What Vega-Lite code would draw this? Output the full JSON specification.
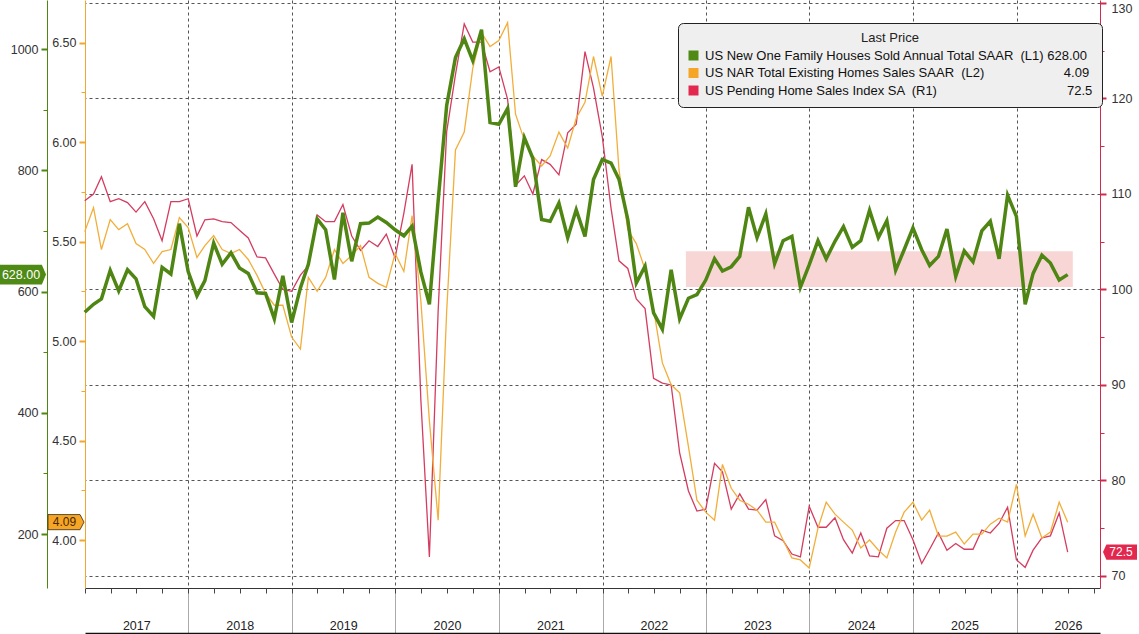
{
  "$schema": "https://vega.github.io/schema/vega-lite/v6.json",
  "width": 1015,
  "height": 588,
  "autosize": {"type": "none"},
  "padding": {"left": 85, "top": 0, "right": 39, "bottom": 46},
  "background": "white",
  "config": {
    "view": {"stroke": null},
    "axis": {"labelFont": "Liberation Sans", "labelFontSize": 12.5, "labelColor": "#333333", "domainWidth": 1}
  },
  "datasets": {
    "m": [
      {"d": "2016-12-31", "n": 566, "e": 5.55, "p": 109.3},
      {"d": "2017-01-31", "n": 579, "e": 5.67, "p": 110.0},
      {"d": "2017-02-28", "n": 588, "e": 5.46, "p": 111.8},
      {"d": "2017-03-31", "n": 635, "e": 5.61, "p": 109.2},
      {"d": "2017-04-30", "n": 601, "e": 5.56, "p": 109.5},
      {"d": "2017-05-31", "n": 636, "e": 5.59, "p": 109.1},
      {"d": "2017-06-30", "n": 621, "e": 5.49, "p": 108.1},
      {"d": "2017-07-31", "n": 575, "e": 5.46, "p": 109.2},
      {"d": "2017-08-31", "n": 559, "e": 5.39, "p": 107.4},
      {"d": "2017-09-30", "n": 640, "e": 5.45, "p": 105.1},
      {"d": "2017-10-31", "n": 629, "e": 5.46, "p": 109.2},
      {"d": "2017-11-30", "n": 712, "e": 5.62, "p": 109.2},
      {"d": "2017-12-31", "n": 633, "e": 5.57, "p": 109.5},
      {"d": "2018-01-31", "n": 593, "e": 5.42, "p": 105.6},
      {"d": "2018-02-28", "n": 618, "e": 5.48, "p": 107.3},
      {"d": "2018-03-31", "n": 680, "e": 5.53, "p": 107.4},
      {"d": "2018-04-30", "n": 645, "e": 5.46, "p": 107.1},
      {"d": "2018-05-31", "n": 664, "e": 5.44, "p": 107.0},
      {"d": "2018-06-30", "n": 639, "e": 5.46, "p": 106.2},
      {"d": "2018-07-31", "n": 630, "e": 5.41, "p": 105.4},
      {"d": "2018-08-31", "n": 598, "e": 5.33, "p": 103.4},
      {"d": "2018-09-30", "n": 597, "e": 5.24, "p": 103.3},
      {"d": "2018-10-31", "n": 555, "e": 5.18, "p": 101.6},
      {"d": "2018-11-30", "n": 626, "e": 5.18, "p": 100.0},
      {"d": "2018-12-31", "n": 549, "e": 5.02, "p": 99.8},
      {"d": "2019-01-31", "n": 606, "e": 4.96, "p": 101.5},
      {"d": "2019-02-28", "n": 645, "e": 5.32, "p": 102.5},
      {"d": "2019-03-31", "n": 720, "e": 5.25, "p": 107.8},
      {"d": "2019-04-30", "n": 702, "e": 5.32, "p": 107.1},
      {"d": "2019-05-31", "n": 620, "e": 5.46, "p": 107.1},
      {"d": "2019-06-30", "n": 730, "e": 5.39, "p": 108.9},
      {"d": "2019-07-31", "n": 650, "e": 5.43, "p": 105.6},
      {"d": "2019-08-31", "n": 712, "e": 5.48, "p": 104.1},
      {"d": "2019-09-30", "n": 713, "e": 5.32, "p": 105.1},
      {"d": "2019-10-31", "n": 723, "e": 5.29, "p": 104.5},
      {"d": "2019-11-30", "n": 714, "e": 5.27, "p": 105.8},
      {"d": "2019-12-31", "n": 702, "e": 5.44, "p": 103.3},
      {"d": "2020-01-31", "n": 692, "e": 5.35, "p": 108.0},
      {"d": "2020-02-29", "n": 708, "e": 5.63, "p": 113.1},
      {"d": "2020-03-31", "n": 632, "e": 5.20, "p": 88.4},
      {"d": "2020-04-30", "n": 579, "e": 4.60, "p": 72.0},
      {"d": "2020-05-31", "n": 750, "e": 4.10, "p": 97.8},
      {"d": "2020-06-30", "n": 907, "e": 5.15, "p": 116.5},
      {"d": "2020-07-31", "n": 986, "e": 5.96, "p": 122.5},
      {"d": "2020-08-31", "n": 1017, "e": 6.05, "p": 127.8},
      {"d": "2020-09-30", "n": 981, "e": 6.37, "p": 125.9},
      {"d": "2020-10-31", "n": 1032, "e": 6.55, "p": 125.9},
      {"d": "2020-11-30", "n": 879, "e": 6.48, "p": 122.8},
      {"d": "2020-12-31", "n": 876, "e": 6.51, "p": 123.3},
      {"d": "2021-01-31", "n": 902, "e": 6.60, "p": 119.9},
      {"d": "2021-02-28", "n": 773, "e": 6.14, "p": 110.9},
      {"d": "2021-03-31", "n": 854, "e": 6.01, "p": 111.9},
      {"d": "2021-04-30", "n": 820, "e": 5.93, "p": 110.0},
      {"d": "2021-05-31", "n": 719, "e": 5.88, "p": 113.6},
      {"d": "2021-06-30", "n": 716, "e": 5.93, "p": 113.1},
      {"d": "2021-07-31", "n": 746, "e": 6.05, "p": 112.0},
      {"d": "2021-08-31", "n": 689, "e": 5.97, "p": 116.4},
      {"d": "2021-09-30", "n": 735, "e": 6.12, "p": 117.3},
      {"d": "2021-10-31", "n": 691, "e": 6.20, "p": 124.9},
      {"d": "2021-11-30", "n": 785, "e": 6.43, "p": 121.1},
      {"d": "2021-12-31", "n": 818, "e": 6.23, "p": 116.0},
      {"d": "2022-01-31", "n": 812, "e": 6.43, "p": 108.5},
      {"d": "2022-02-28", "n": 785, "e": 5.86, "p": 103.0},
      {"d": "2022-03-31", "n": 719, "e": 5.56, "p": 102.2},
      {"d": "2022-04-30", "n": 614, "e": 5.49, "p": 99.0},
      {"d": "2022-05-31", "n": 642, "e": 5.36, "p": 98.0},
      {"d": "2022-06-30", "n": 565, "e": 5.16, "p": 90.7},
      {"d": "2022-07-31", "n": 538, "e": 4.89, "p": 90.2},
      {"d": "2022-08-31", "n": 636, "e": 4.78, "p": 90.0},
      {"d": "2022-09-30", "n": 555, "e": 4.74, "p": 82.9},
      {"d": "2022-10-31", "n": 589, "e": 4.47, "p": 78.9},
      {"d": "2022-11-30", "n": 595, "e": 4.20, "p": 76.8},
      {"d": "2022-12-31", "n": 619, "e": 4.14, "p": 77.0},
      {"d": "2023-01-31", "n": 654, "e": 4.10, "p": 81.8},
      {"d": "2023-02-28", "n": 634, "e": 4.38, "p": 80.9},
      {"d": "2023-03-31", "n": 641, "e": 4.26, "p": 77.0},
      {"d": "2023-04-30", "n": 658, "e": 4.20, "p": 78.6},
      {"d": "2023-05-31", "n": 739, "e": 4.18, "p": 77.0},
      {"d": "2023-06-30", "n": 689, "e": 4.15, "p": 76.9},
      {"d": "2023-07-31", "n": 728, "e": 4.09, "p": 78.0},
      {"d": "2023-08-31", "n": 646, "e": 4.09, "p": 74.2},
      {"d": "2023-09-30", "n": 684, "e": 4.00, "p": 73.7},
      {"d": "2023-10-31", "n": 691, "e": 3.91, "p": 72.3},
      {"d": "2023-11-30", "n": 607, "e": 3.90, "p": 72.0},
      {"d": "2023-12-31", "n": 644, "e": 3.86, "p": 77.3},
      {"d": "2024-01-31", "n": 684, "e": 4.06, "p": 75.1},
      {"d": "2024-02-29", "n": 654, "e": 4.19, "p": 75.1},
      {"d": "2024-03-31", "n": 683, "e": 4.13, "p": 76.1},
      {"d": "2024-04-30", "n": 707, "e": 4.09, "p": 73.8},
      {"d": "2024-05-31", "n": 673, "e": 4.05, "p": 72.4},
      {"d": "2024-06-30", "n": 684, "e": 3.96, "p": 74.5},
      {"d": "2024-07-31", "n": 734, "e": 4.00, "p": 72.1},
      {"d": "2024-08-31", "n": 689, "e": 3.95, "p": 72.0},
      {"d": "2024-09-30", "n": 717, "e": 3.91, "p": 75.0},
      {"d": "2024-10-31", "n": 635, "e": 4.04, "p": 75.8},
      {"d": "2024-11-30", "n": 669, "e": 4.14, "p": 75.8},
      {"d": "2024-12-31", "n": 705, "e": 4.19, "p": 73.8},
      {"d": "2025-01-31", "n": 669, "e": 4.10, "p": 71.3},
      {"d": "2025-02-28", "n": 643, "e": 4.15, "p": 72.8},
      {"d": "2025-03-31", "n": 658, "e": 4.02, "p": 74.5},
      {"d": "2025-04-30", "n": 703, "e": 4.02, "p": 72.7},
      {"d": "2025-05-31", "n": 625, "e": 4.04, "p": 73.4},
      {"d": "2025-06-30", "n": 667, "e": 3.98, "p": 72.8},
      {"d": "2025-07-31", "n": 649, "e": 4.03, "p": 72.8},
      {"d": "2025-08-31", "n": 700, "e": 4.03, "p": 74.8},
      {"d": "2025-09-30", "n": 716, "e": 4.08, "p": 74.5},
      {"d": "2025-10-31", "n": 654, "e": 4.11, "p": 75.5},
      {"d": "2025-11-30", "n": 759, "e": 4.09, "p": 77.2},
      {"d": "2025-12-31", "n": 724, "e": 4.28, "p": 71.7},
      {"d": "2026-01-31", "n": 579, "e": 4.02, "p": 70.9},
      {"d": "2026-02-28", "n": 630, "e": 4.13, "p": 72.7},
      {"d": "2026-03-31", "n": 660, "e": 4.01, "p": 74.0},
      {"d": "2026-04-30", "n": 647, "e": 4.04, "p": 74.2},
      {"d": "2026-05-31", "n": 619, "e": 4.19, "p": 76.6},
      {"d": "2026-06-30", "n": 628, "e": 4.09, "p": 72.5}
    ],
    "band": [
      {"start": "2022-10-22", "end": "2026-07-18", "lo": 100.25, "hi": 104.0}
    ]
  },
  "data": {"name": "m", "format": {"parse": {"d": "utc:'%Y-%m-%d'"}}},
  "layer": [
    {
      "layer": [
        {
          "data": {"name": "band", "format": {"parse": {"start": "utc:'%Y-%m-%d'", "end": "utc:'%Y-%m-%d'"}}},
          "mark": {"type": "rect", "color": "#f9d6d6"},
          "encoding": {
            "x": {"field": "start", "type": "temporal", "title": null},
            "x2": {"field": "end"},
            "y": {"field": "lo", "type": "quantitative", "axis": null, "title": null},
            "y2": {"field": "hi"}
          }
        },
        {
          "mark": {"type": "line", "color": "#d43c60", "strokeWidth": 1.3},
          "encoding": {
            "x": {
              "field": "d", "type": "temporal", "title": null,
              "scale": {"type": "utc", "domain": [{"year": 2017, "month": 1, "date": 1, "utc": true}, {"year": 2026, "month": 10, "date": 22, "utc": true}]},
              "axis": {
                "orient": "bottom",
                "values": [
                  {"year": 2018, "month": 1, "date": 1, "utc": true},
                  {"year": 2019, "month": 1, "date": 1, "utc": true},
                  {"year": 2020, "month": 1, "date": 1, "utc": true},
                  {"year": 2021, "month": 1, "date": 1, "utc": true},
                  {"year": 2022, "month": 1, "date": 1, "utc": true},
                  {"year": 2023, "month": 1, "date": 1, "utc": true},
                  {"year": 2024, "month": 1, "date": 1, "utc": true},
                  {"year": 2025, "month": 1, "date": 1, "utc": true},
                  {"year": 2026, "month": 1, "date": 1, "utc": true}
                ],
                "labels": false,
                "grid": true, "gridDash": [3, 3], "gridColor": "#555555", "gridWidth": 1,
                "tickSize": 45, "tickColor": "#aaaaaa", "tickWidth": 1,
                "domain": true, "domainColor": "#333333"
              }
            },
            "y": {
              "field": "p", "type": "quantitative", "title": null,
              "scale": {"domain": [68.74, 130.31], "nice": false, "zero": false},
              "axis": {
                "orient": "right",
                "values": [70, 80, 90, 100, 110, 120, 130],
                "grid": true, "gridDash": [3, 3], "gridColor": "#555555", "gridWidth": 1,
                "domainColor": "#d02a4e", "tickColor": "#d02a4e", "tickSize": 6, "tickWidth": 2,
                "labelPadding": 5, "labelFlush": 5
              }
            }
          }
        },
        {
          "transform": [{"filter": "utcyear(datum.d) === 2026 && utcmonth(datum.d) === 5"}],
          "mark": {"type": "point", "shape": "M-1,0L-0.8,-0.45L1,-0.45L1,0.45L-0.8,0.45Z", "size": 1156, "filled": true, "opacity": 1, "strokeWidth": 0, "xOffset": 20},
          "encoding": {
            "x": {"datum": {"year": 2026, "month": 10, "date": 22, "utc": true}, "type": "temporal", "title": null},
            "y": {
              "field": "p", "type": "quantitative", "title": null,
              "axis": {"orient": "right", "values": [75, 85, 95, 105, 115, 125], "labels": false, "domain": false, "grid": false, "tickColor": "#d02a4e", "tickSize": 4, "tickWidth": 1}
            },
            "fill": {
              "datum": "US Pending Home Sales Index SA \u00a0(R1)", "type": "nominal",
              "scale": {
                "domain": ["US New One Family Houses Sold Annual Total SAAR \u00a0(L1)", "US NAR Total Existing Homes Sales SAAR \u00a0(L2)", "US Pending Home Sales Index SA \u00a0(R1)"],
                "range": ["#4e8a14", "#f5a627", "#e2284e"]
              },
              "legend": {
                "orient": "none", "legendX": 593, "legendY": 23,
                "title": "Last Price", "titleFont": "Liberation Sans", "titleFontSize": 13, "titleFontWeight": "normal", "titleColor": "#222222",
                "titleAnchor": "middle", "titleAlign": "center", "titlePadding": 4,
                "labelFont": "Liberation Sans", "labelFontSize": 13, "labelColor": "#111111", "labelLimit": 700, "labelOffset": 5,
                "symbolType": "square", "symbolSize": 100, "symbolStrokeWidth": 0, "symbolOpacity": 1,
                "rowPadding": 3.5, "padding": 9, "fillColor": "#efefef", "strokeColor": "#222222", "cornerRadius": 5,
                "labelExpr": "datum.label + (indexof(datum.label, '(L1)') >= 0 ? ' 628.00' : indexof(datum.label, '(L2)') >= 0 ? '\u00a0\u00a0\u00a0\u00a0\u00a0\u00a0\u00a0\u00a0\u00a0\u00a0\u00a0\u00a0\u00a0\u00a0\u00a0\u00a0\u00a0\u00a0\u00a0\u00a0\u00a0\u00a04.09' : '\u00a0\u00a0\u00a0\u00a0\u00a0\u00a0\u00a0\u00a0\u00a0\u00a0\u00a0\u00a0\u00a0\u00a0\u00a0\u00a0\u00a0\u00a0\u00a0\u00a0\u00a0\u00a0\u00a0\u00a0\u00a0\u00a0\u00a0\u00a0\u00a0\u00a0\u00a0\u00a0\u00a0\u00a0\u00a0\u00a072.5')"
              }
            }
          }
        },
        {
          "transform": [{"filter": "utcyear(datum.d) === 2026 && utcmonth(datum.d) === 5"}],
          "mark": {"type": "text", "xOffset": 21, "color": "#ffffff", "font": "Liberation Sans", "fontSize": 12, "align": "center", "baseline": "middle"},
          "encoding": {
            "x": {"datum": {"year": 2026, "month": 10, "date": 22, "utc": true}, "type": "temporal", "title": null},
            "y": {"field": "p", "type": "quantitative", "axis": null},
            "text": {"field": "p", "type": "quantitative", "format": ".1f"}
          }
        }
      ],
      "resolve": {"axis": {"y": "independent"}}
    },
    {
      "layer": [
        {
          "mark": {"type": "line", "color": "#f2ae3a", "strokeWidth": 1.3},
          "encoding": {
            "x": {
              "field": "d", "type": "temporal", "title": null,
              "scale": {"type": "utc", "domain": [{"year": 2017, "month": 1, "date": 1, "utc": true}, {"year": 2026, "month": 10, "date": 22, "utc": true}]},
              "axis": {
                "orient": "bottom",
                "tickCount": {"interval": "month", "step": 3},
                "tickSize": 5, "tickColor": "#444444",
                "labelExpr": "utcmonth(datum.value) == 6 ? utcFormat(datum.value, '%Y') : ''",
                "labelPadding": 26, "labelFontSize": 12.5, "labelColor": "#222222",
                "labelOverlap": false, "labelFlush": false,
                "domain": false, "grid": false
              }
            },
            "y": {
              "field": "e", "type": "quantitative", "title": null,
              "scale": {"domain": [3.759, 6.714], "nice": false, "zero": false},
              "axis": {
                "orient": "left", "offset": 0,
                "values": [4, 4.5, 5, 5.5, 6, 6.5], "format": ".2f",
                "domainColor": "#f0a630", "tickColor": "#f0a630", "tickSize": 6, "tickWidth": 2,
                "labelPadding": 3, "grid": false
              }
            }
          }
        },
        {
          "transform": [{"filter": "utcyear(datum.d) === 2026 && utcmonth(datum.d) === 5"}],
          "mark": {"type": "point", "shape": "M-1,-0.42L0.78,-0.42L1,0L0.78,0.42L-1,0.42Z", "size": 1296, "filled": true, "opacity": 1, "stroke": "#3a2a10", "strokeWidth": 0.8, "xOffset": -19},
          "encoding": {
            "x": {"datum": {"year": 2017, "month": 1, "date": 1, "utc": true}, "type": "temporal", "title": null},
            "y": {
              "field": "e", "type": "quantitative", "title": null,
              "axis": {"orient": "left", "offset": 0, "values": [4.25, 4.75, 5.25, 5.75, 6.25], "labels": false, "domain": false, "grid": false, "tickColor": "#f0a630", "tickSize": 4, "tickWidth": 1}
            },
            "fill": {
              "datum": "US NAR Total Existing Homes Sales SAAR \u00a0(L2)", "type": "nominal"
            }
          }
        },
        {
          "transform": [{"filter": "utcyear(datum.d) === 2026 && utcmonth(datum.d) === 5"}],
          "mark": {"type": "text", "xOffset": -20.5, "color": "#4a2800", "font": "Liberation Sans", "fontSize": 12, "align": "center", "baseline": "middle"},
          "encoding": {
            "x": {"datum": {"year": 2017, "month": 1, "date": 1, "utc": true}, "type": "temporal", "title": null},
            "y": {"field": "e", "type": "quantitative", "axis": null},
            "text": {"field": "e", "type": "quantitative", "format": ".2f"}
          }
        }
      ],
      "resolve": {"axis": {"y": "independent"}}
    },
    {
      "layer": [
        {
          "mark": {"type": "line", "color": "#4f8613", "strokeWidth": 3.5},
          "encoding": {
            "x": {
              "field": "d", "type": "temporal", "title": null,
              "scale": {"type": "utc", "domain": [{"year": 2017, "month": 1, "date": 1, "utc": true}, {"year": 2026, "month": 10, "date": 22, "utc": true}]},
              "axis": {"orient": "bottom", "offset": 45, "domainColor": "#111111", "domainWidth": 1.5, "ticks": false, "labels": false, "grid": false}
            },
            "y": {
              "field": "n", "type": "quantitative", "title": null,
              "scale": {"domain": [111, 1081], "nice": false, "zero": false},
              "axis": {
                "orient": "left", "offset": 38,
                "values": [200, 400, 600, 800, 1000], "format": "d",
                "domainColor": "#4f8613", "tickColor": "#4f8613", "tickSize": 6, "tickWidth": 2,
                "labelPadding": 3, "grid": false
              }
            }
          }
        },
        {
          "transform": [{"filter": "utcyear(datum.d) === 2026 && utcmonth(datum.d) === 5"}],
          "mark": {"type": "point", "shape": "M-1,-0.43L0.82,-0.43L1,0L0.82,0.43L-1,0.43Z", "size": 2116, "filled": true, "opacity": 1, "strokeWidth": 0, "xOffset": -62},
          "encoding": {
            "x": {"datum": {"year": 2017, "month": 1, "date": 1, "utc": true}, "type": "temporal", "title": null},
            "y": {
              "field": "n", "type": "quantitative", "title": null,
              "axis": {"orient": "left", "offset": 38, "values": [300, 500, 700, 900], "labels": false, "domain": false, "grid": false, "tickColor": "#4f8613", "tickSize": 4, "tickWidth": 1}
            },
            "fill": {
              "datum": "US New One Family Houses Sold Annual Total SAAR \u00a0(L1)", "type": "nominal"
            }
          }
        },
        {
          "transform": [{"filter": "utcyear(datum.d) === 2026 && utcmonth(datum.d) === 5"}],
          "mark": {"type": "text", "xOffset": -64, "color": "#ffffff", "font": "Liberation Sans", "fontSize": 12.5, "align": "center", "baseline": "middle"},
          "encoding": {
            "x": {"datum": {"year": 2017, "month": 1, "date": 1, "utc": true}, "type": "temporal", "title": null},
            "y": {"field": "n", "type": "quantitative", "axis": null},
            "text": {"field": "n", "type": "quantitative", "format": ".2f"}
          }
        }
      ],
      "resolve": {"axis": {"y": "independent"}}
    }
  ],
  "resolve": {"scale": {"y": "independent"}, "axis": {"x": "independent"}}
}
